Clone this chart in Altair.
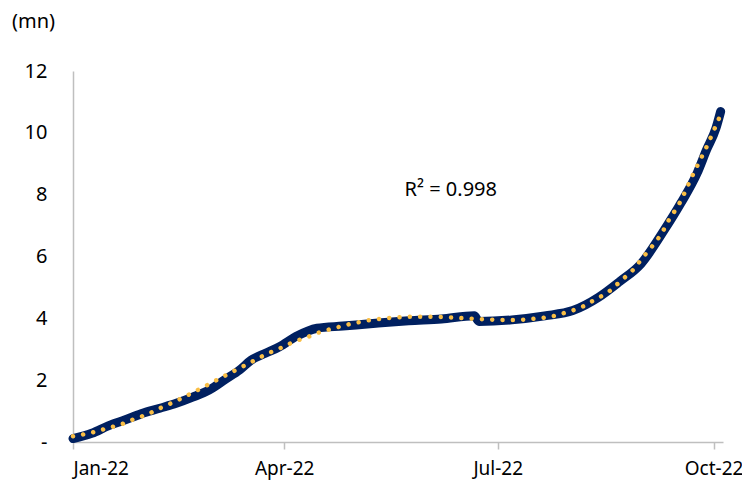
import altair as alt
import pandas as pd

dates = ["2022-01-01", "2022-01-09", "2022-01-16", "2022-01-23", "2022-01-30",
         "2022-02-07", "2022-02-14", "2022-02-21", "2022-02-28", "2022-03-07",
         "2022-03-13", "2022-03-18", "2022-03-24", "2022-03-30", "2022-04-06",
         "2022-04-15", "2022-04-26", "2022-05-10", "2022-05-24", "2022-06-07",
         "2022-06-21", "2022-06-23", "2022-07-07", "2022-07-21", "2022-08-02",
         "2022-08-13", "2022-08-22", "2022-08-31", "2022-09-10", "2022-09-17",
         "2022-09-24", "2022-09-28", "2022-10-02", "2022-10-04"]
values = [0.11, 0.28, 0.52, 0.71, 0.91,
          1.09, 1.25, 1.45, 1.68, 2.03,
          2.33, 2.65, 2.87, 3.08, 3.41,
          3.68, 3.75, 3.84, 3.92, 3.98,
          4.08, 3.90, 3.95, 4.08, 4.25,
          4.68, 5.19, 5.76, 6.86, 7.72,
          8.70, 9.45, 10.15, 10.69]

y_ticks = [0, 2, 4, 6, 8, 10, 12]
r2_label = "R\u00b2 = 0.998"
unit_label = "(mn)"

df = pd.DataFrame({"date": dates, "value": values})
df["day"] = (pd.to_datetime(df["date"]) - pd.Timestamp("2022-01-01")).dt.days

FONT = "Noto Sans"
NAVY = "#002060"
GOLD = "#F9BE45"
FS = 20

x_scale = alt.Scale(
    type="utc",
    domain=[alt.DateTime(year=2022, month=1, date=1, utc=True),
            alt.DateTime(year=2022, month=10, date=5, utc=True)],
)
x_axis = alt.Axis(
    values=[alt.DateTime(year=2022, month=m, date=1, utc=True) for m in (1, 4, 7, 10)],
    labelExpr="utcFormat(datum.value, '%b-%y')", title=None, grid=False,
    ticks=True, tickSize=7, tickColor="#bfbfbf", tickWidth=1.5,
    domainColor="#bfbfbf", domainWidth=1.5,
    labelFont=FONT, labelFontSize=19, labelColor="#000", labelPadding=10,
)
y_scale = alt.Scale(domain=[0, 12], nice=False)
y_axis = alt.Axis(
    values=y_ticks, title=None, grid=False, ticks=False,
    domainColor="#bfbfbf", domainWidth=1.5,
    labelExpr="datum.value == 0 ? '-' : datum.value",
    labelFont=FONT, labelFontSize=FS, labelColor="#000", labelPadding=26,
)

base = alt.Chart(df)

line = base.mark_line(color=NAVY, strokeWidth=9, strokeCap="round",
                      strokeJoin="round", interpolate="monotone")

trend = base.transform_regression(
    "day", "value", method="poly", order=6
).transform_calculate(
    date="utc(2022, 0, 1 + datum.day)"
).mark_line(color=GOLD, strokeWidth=4.5, strokeCap="round",
            strokeDash=[0.01, 10.3])

ann = alt.Chart(pd.DataFrame({"date": ["2022-06-11"], "value": [8.15], "label": [r2_label]})).mark_text(
    font=FONT, fontSize=FS, color="#000", align="center", baseline="middle"
).encode(text="label:N")

unit = alt.Chart(pd.DataFrame({"label": [unit_label]})).mark_text(
    font=FONT, fontSize=FS, color="#000", align="left", baseline="middle"
).encode(x=alt.value(-61), y=alt.value(-49), text="label:N")

chart = alt.layer(line, trend, ann).encode(
    x=alt.X("date:T", scale=x_scale, axis=x_axis),
    y=alt.Y("value:Q", scale=y_scale, axis=y_axis),
)
chart = alt.layer(chart, unit).properties(
    width=650, height=371,
    autosize=alt.AutoSizeParams(type="none"),
    padding={"left": 65, "top": 63, "right": 19, "bottom": 44},
).configure(background="white").configure_view(stroke=None)

chart.save("out.html", embed_options={"renderer": "svg", "actions": False})
